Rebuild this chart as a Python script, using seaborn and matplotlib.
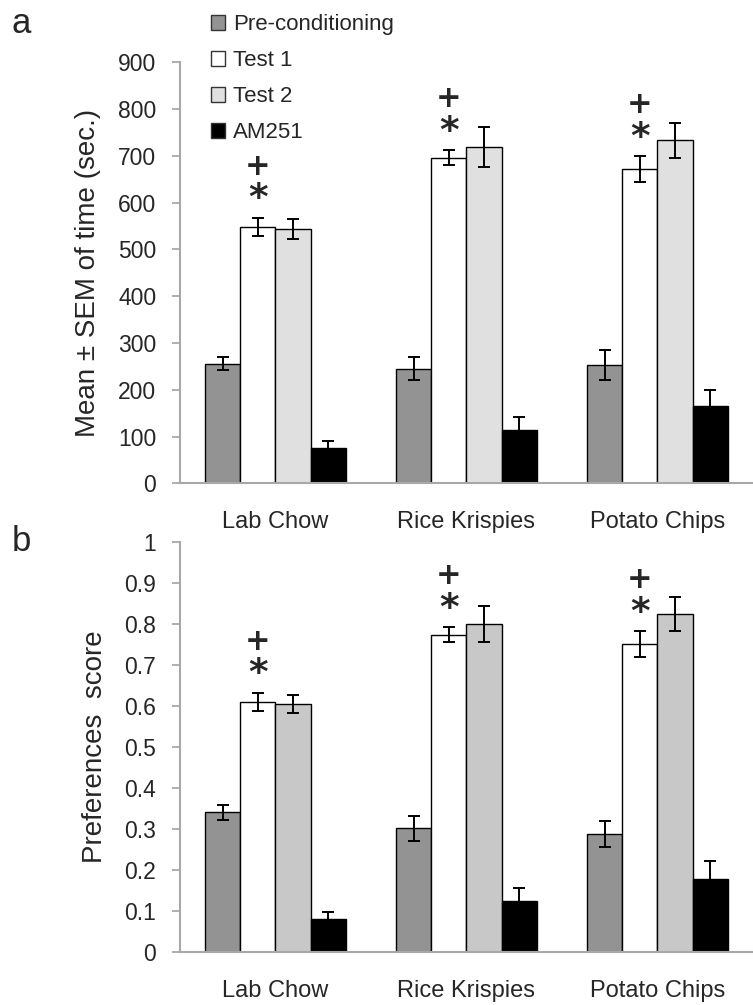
import pandas as pd
import matplotlib.pyplot as plt
import seaborn as sns
from matplotlib.patches import Patch


##################################################################
# DATA
##################################################################

foods = ['Lab Chow', 'Rice Krispies', 'Potato Chips']
phases = ['Pre-conditioning', 'Test 1', 'Test 2', 'AM251']

# panel a: mean time (sec.)
pre_time = [256, 245, 253]
test1_time = [548, 696, 672]
test2_time = [544, 719, 733]
am251_time = [75, 114, 165]

pre_time_sem = [14, 25, 32]
test1_time_sem = [20, 16, 27]
test2_time_sem = [21, 43, 38]
am251_time_sem = [15, 27, 34]

# panel b: preference score
pre_score = [0.340, 0.301, 0.287]
test1_score = [0.610, 0.773, 0.751]
test2_score = [0.605, 0.800, 0.823]
am251_score = [0.080, 0.124, 0.178]

pre_score_sem = [0.019, 0.031, 0.031]
test1_score_sem = [0.022, 0.018, 0.031]
test2_score_sem = [0.022, 0.044, 0.042]
am251_score_sem = [0.017, 0.032, 0.043]

# significance marks only over Test 1
marked_phase = 'Test 1'


def long_table(means, sems):
    rows = []
    for phase, m, s in zip(phases, means, sems):
        for food, v, e in zip(foods, m, s):
            rows.append({'food': food, 'phase': phase, 'value': v, 'sem': e})
    return pd.DataFrame(rows)


time_df = long_table([pre_time, test1_time, test2_time, am251_time],
                     [pre_time_sem, test1_time_sem, test2_time_sem, am251_time_sem])
score_df = long_table([pre_score, test1_score, test2_score, am251_score],
                      [pre_score_sem, test1_score_sem, test2_score_sem, am251_score_sem])


##################################################################
# STYLE
##################################################################

sns.set_style('white')
plt.rcParams['font.family'] = ['Liberation Sans', 'DejaVu Sans']
axis_grey = '#A8A8A8'

colors_a = ['#939393', '#FFFFFF', '#E0E0E0', '#000000']
colors_b = ['#939393', '#FFFFFF', '#C8C8C8', '#000000']

fig = plt.figure(figsize=(7.53, 10.05), dpi=100)
ax_a = fig.add_axes([0.239, 0.519, 0.761, 0.419])
ax_b = fig.add_axes([0.239, 0.053, 0.761, 0.408])


def draw_panel(ax, df, colors, ymax, ystep, ylabel, fmt):
    sns.barplot(data=df, x='food', y='value', hue='phase',
                order=foods, hue_order=phases, palette=colors,
                width=0.735, errorbar=None, saturation=1,
                edgecolor='black', linewidth=1, legend=False, ax=ax)

    # error bars and significance marks
    for phase, cont in zip(phases, ax.containers):
        sub = df[df['phase'] == phase].set_index('food').loc[foods]
        for bar, (food, row) in zip(cont, sub.iterrows()):
            x = bar.get_x() + bar.get_width() / 2
            ax.errorbar(x, row['value'], yerr=row['sem'], fmt='none',
                        ecolor='black', elinewidth=1.4, capsize=4.5, capthick=1.4)
            if phase == marked_phase:
                top = row['value'] + row['sem']
                ax.annotate('*', (x, top), xytext=(0, 6), textcoords='offset points',
                            ha='center', va='baseline', fontsize=27, fontweight='bold',
                            family='DejaVu Sans')
                ax.annotate('+', (x, top), xytext=(0, 31), textcoords='offset points',
                            ha='center', va='baseline', fontsize=22, fontweight='bold',
                            family='DejaVu Sans')

    ax.set_ylim(0, ymax)
    ax.set_xlim(-0.5, 2.444)
    nticks = int(round(ymax / ystep)) + 1
    ax.set_yticks([i * ystep for i in range(nticks)])
    ax.set_yticklabels([fmt(i * ystep) for i in range(nticks)])
    ax.set_xticks(range(len(foods)))
    ax.set_xticklabels(foods)
    ax.set_xticks([-0.5, 0.5, 1.5, 2.5], minor=True)
    ax.tick_params(axis='x', which='major', length=0, pad=20, labelsize=17)
    ax.tick_params(axis='x', which='minor', length=6, width=1.3, color=axis_grey, direction='out')
    ax.tick_params(axis='y', length=6, width=1.3, color=axis_grey, direction='out',
                   labelsize=16.5, pad=11, left=True)
    ax.set_xlabel('')
    ax.set_ylabel(ylabel, fontsize=20, labelpad=12)
    for side in ['top', 'right']:
        ax.spines[side].set_visible(False)
    for side in ['left', 'bottom']:
        ax.spines[side].set_color(axis_grey)
        ax.spines[side].set_linewidth(1.5)


draw_panel(ax_a, time_df, colors_a, 900, 100, 'Mean \u00b1 SEM of time (sec.)',
           lambda v: f'{int(v)}')
draw_panel(ax_b, score_df, colors_b, 1.0, 0.1, 'Preferences  score',
           lambda v: '0' if v == 0 else ('1' if abs(v - 1) < 1e-9 else f'{v:.1f}'))

# legend at the top
handles = [Patch(facecolor=c, edgecolor='#333333', linewidth=1) for c in colors_a]
fig.legend(handles, phases, loc='upper left', bbox_to_anchor=(0.28, 0.986),
           frameon=False, fontsize=16, handlelength=0.65, handleheight=0.65,
           handletextpad=0.35, labelspacing=0.68, borderpad=0, borderaxespad=0)

# panel letters
fig.text(0.015, 0.977, 'a', fontsize=25, va='center')
fig.text(0.015, 0.461, 'b', fontsize=25, va='center')

plt.savefig('out.png', dpi=100)
